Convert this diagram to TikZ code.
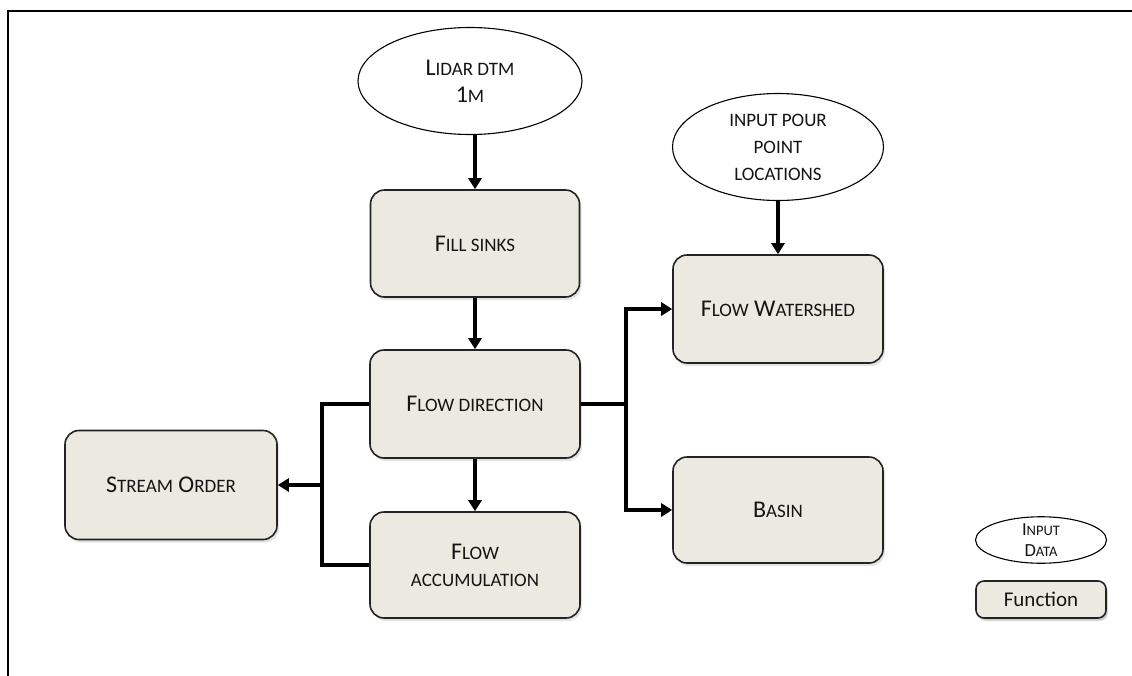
\documentclass[tikz,border=0pt]{standalone}
\usepackage{fontspec}
\setmainfont{Carlito}
\usetikzlibrary{shapes.geometric,shadows,arrows.meta}
\definecolor{boxfill}{RGB}{236,234,224}
\definecolor{boxline}{RGB}{35,35,35}
\definecolor{txt}{RGB}{20,20,20}
\newcommand\smc[1]{{\fontsize{19}{27}\selectfont #1}}
\newcommand\smcs[1]{{\fontsize{14.5}{21}\selectfont #1}}
\tikzset{
  fnbox/.style={draw=boxline, line width=1.6pt, fill=boxfill, rounded corners=14pt,
    align=center, text=txt, font=\fontsize{24}{27}\selectfont,
    drop shadow={opacity=0.22, shadow xshift=2pt, shadow yshift=-3pt}},
  databox/.style={ellipse, draw=black, line width=1.1pt, fill=white, align=center,
    text=txt, font=\fontsize{24}{27}\selectfont, inner sep=0pt},
  conn/.style={line width=3.6pt, draw=black, line join=miter},
  arr/.style={conn, -{Triangle[length=11pt,width=13pt]}},
}
\begin{document}
\begin{tikzpicture}[x=1pt,y=-1pt]
\useasboundingbox (0,0) rectangle (1132,675);
\draw[line width=2.4pt] (8,676) -- (8,11) -- (1133,11);

\node[databox, minimum width=224pt, minimum height=107pt] (lidar) at (470,81)
  {L\smc{IDAR DTM}\\1\smc{M}};
\node[fnbox, minimum width=209pt, minimum height=107pt] (fill) at (475,243.5)
  {F\smc{ILL SINKS}};
\node[fnbox, minimum width=210pt, minimum height=108pt] (dir) at (475,404)
  {F\smc{LOW DIRECTION}};
\node[fnbox, minimum width=210pt, minimum height=106pt] (acc) at (475,565)
  {F\smc{LOW}\\\smc{ACCUMULATION}};
\node[fnbox, minimum width=212pt, minimum height=109pt] (stream) at (171,485)
  {S\smc{TREAM} O\smc{RDER}};
\node[databox, minimum width=211pt, minimum height=107pt] (pour) at (778,147)
  {\smc{INPUT POUR}\\\smc{POINT}\\\smc{LOCATIONS}};
\node[fnbox, minimum width=210pt, minimum height=108pt] (ws) at (778,309)
  {F\smc{LOW} W\smc{ATERSHED}};
\node[fnbox, minimum width=210pt, minimum height=106pt] (basin) at (778,510)
  {B\smc{ASIN}};

\node[databox, minimum width=131pt, minimum height=46pt,
  font=\fontsize{18.5}{21}\selectfont] (legdata) at (1041,540)
  {I\smcs{NPUT}\\D\smcs{ATA}};
\node[fnbox, rounded corners=8pt, minimum width=130pt, minimum height=37pt,
  font=\fontsize{21}{22}\selectfont,
  drop shadow={opacity=0.22, shadow xshift=1.5pt, shadow yshift=-2.5pt}] (legfn) at (1041,599.5)
  {Function};

\coordinate (jl) at (322,485);
\coordinate (jr) at (626,404);

\draw[arr] (lidar.south -| fill.north) -- (fill.north);
\draw[arr] (fill.south) -- (fill.south |- dir.north);
\draw[arr] (dir.south) -- (dir.south |- acc.north);
\draw[arr] (pour.south -| ws.north) -- (ws.north);
\draw[conn] (dir.west) -| (jl |- acc.west) -- (acc.west);
\draw[arr] (jl) -- (stream.east);
\draw[conn] (dir.east) -- (jr);
\draw[arr] (jr) |- (ws.west);
\draw[arr] (jr) |- (basin.west);
\end{tikzpicture}
\end{document}
